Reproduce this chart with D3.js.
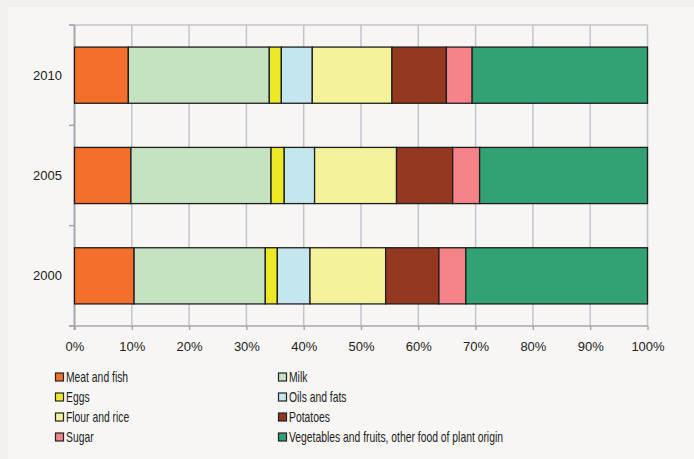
<!DOCTYPE html>
<html><head><meta charset="utf-8">
<script src="https://cdn.jsdelivr.net/npm/d3@7"></script>
<style>body{margin:0;background:#f1f0ee;} svg{display:block;}</style>
</head><body>
<svg id="c" width="694" height="459"></svg>
<script>
const years = ["2010", "2005", "2000"];
const categories = ["Meat and fish", "Milk", "Eggs", "Oils and fats", "Flour and rice", "Potatoes", "Sugar", "Vegetables and fruits, other food of plant origin"];
const colors = ["#f36f2b", "#c5e3c1", "#ede927", "#c4e6ef", "#f4f29a", "#943820", "#f48287", "#32a174"];
const values2010 = [9.4, 24.6, 2.1, 5.4, 13.9, 9.5, 4.5, 30.6];
const values2005 = [9.85, 24.45, 2.3, 5.3, 14.3, 9.8, 4.7, 29.3];
const values2000 = [10.4, 22.9, 2.1, 5.7, 13.2, 9.3, 4.7, 31.7];
const xTicks = [0, 10, 20, 30, 40, 50, 60, 70, 80, 90, 100];

const svg = d3.select("#c");
svg.append("rect").attr("x", 8).attr("y", 7).attr("width", 686).attr("height", 452).attr("fill", "#f7f6f4");

const x = d3.scaleLinear().domain([0, 100]).range([74.5, 647.5]);
const y = d3.scaleBand().domain(years).range([25, 326]).paddingInner(0.44).paddingOuter(0.22);
const gridColor = "#c4c4cb";
const font = "Liberation Sans, Arial, sans-serif";

// gridlines
svg.append("g").selectAll("line").data(xTicks.slice(1)).join("line")
  .attr("x1", d => x(d)).attr("x2", d => x(d)).attr("y1", 25).attr("y2", 326)
  .attr("stroke", gridColor).attr("stroke-width", 1.5);
// top border
svg.append("line").attr("x1", 69).attr("x2", x(100)).attr("y1", 25).attr("y2", 25)
  .attr("stroke", gridColor).attr("stroke-width", 1.5);

// x axis
const xAxis = d3.axisBottom(x).tickValues(xTicks).tickFormat(d => d + "%").tickSize(4).tickSizeOuter(0);
const gx = svg.append("g").attr("transform", "translate(0,326)").call(xAxis);
gx.select(".domain").attr("stroke", "#a6a6ae").attr("stroke-width", 1.5).attr("d", `M69,0H${x(100)}`);
gx.selectAll(".tick line").attr("stroke", "#a6a6ae").attr("stroke-width", 1.5);
gx.selectAll(".tick text").attr("font-family", font).attr("font-size", 13).attr("fill", "#222").attr("dy", "0.71em").attr("y", 16);

// y axis
const gy = svg.append("g");
gy.append("line").attr("x1", x(0)).attr("x2", x(0)).attr("y1", 25).attr("y2", 330).attr("stroke", "#a6a6ae").attr("stroke-width", 2);
gy.selectAll("line.t").data(d3.range(years.length + 1)).join("line").attr("class", "t")
  .attr("x1", 69).attr("x2", x(0)).attr("y1", i => y.range()[0] + i * y.step()).attr("y2", i => y.range()[0] + i * y.step())
  .attr("stroke", "#a6a6ae").attr("stroke-width", 1.5);
gy.selectAll("text").data(years).join("text")
  .attr("x", 62).attr("y", d => y(d) + y.bandwidth() / 2).attr("dy", "0.35em")
  .attr("text-anchor", "end").attr("font-family", font).attr("font-size", 13).attr("fill", "#222")
  .text(d => d);

// bars
const table = years.map((yr, i) => {
  const vals = [values2010, values2005, values2000][i];
  const row = { year: yr };
  categories.forEach((c, j) => row[c] = vals[j]);
  return row;
});
const stack = d3.stack().keys(categories)(table);
svg.append("g").selectAll("g").data(stack).join("g")
  .attr("fill", (d, i) => colors[i])
  .selectAll("rect").data(d => d).join("rect")
  .attr("x", d => x(d[0])).attr("width", d => x(d[1]) - x(d[0]))
  .attr("y", d => y(d.data.year)).attr("height", y.bandwidth())
  .attr("stroke", "#1e1e1e").attr("stroke-width", 1.3);

// legend
const lg = svg.append("g");
const items = lg.selectAll("g").data(categories).join("g")
  .attr("transform", (d, i) => `translate(${i % 2 === 0 ? 55 : 278},${377 + Math.floor(i / 2) * 20})`);
items.append("rect").attr("x", 0.5).attr("y", -4).attr("width", 8).attr("height", 8)
  .attr("fill", (d, i) => colors[i]).attr("stroke", "#222").attr("stroke-width", 1.2);
items.append("text").attr("transform", "translate(11,0) scale(0.74,1)").attr("dy", "0.36em")
  .attr("font-family", font).attr("font-size", 14).attr("fill", "#222")
  .text(d => d);
</script>
</body></html>
